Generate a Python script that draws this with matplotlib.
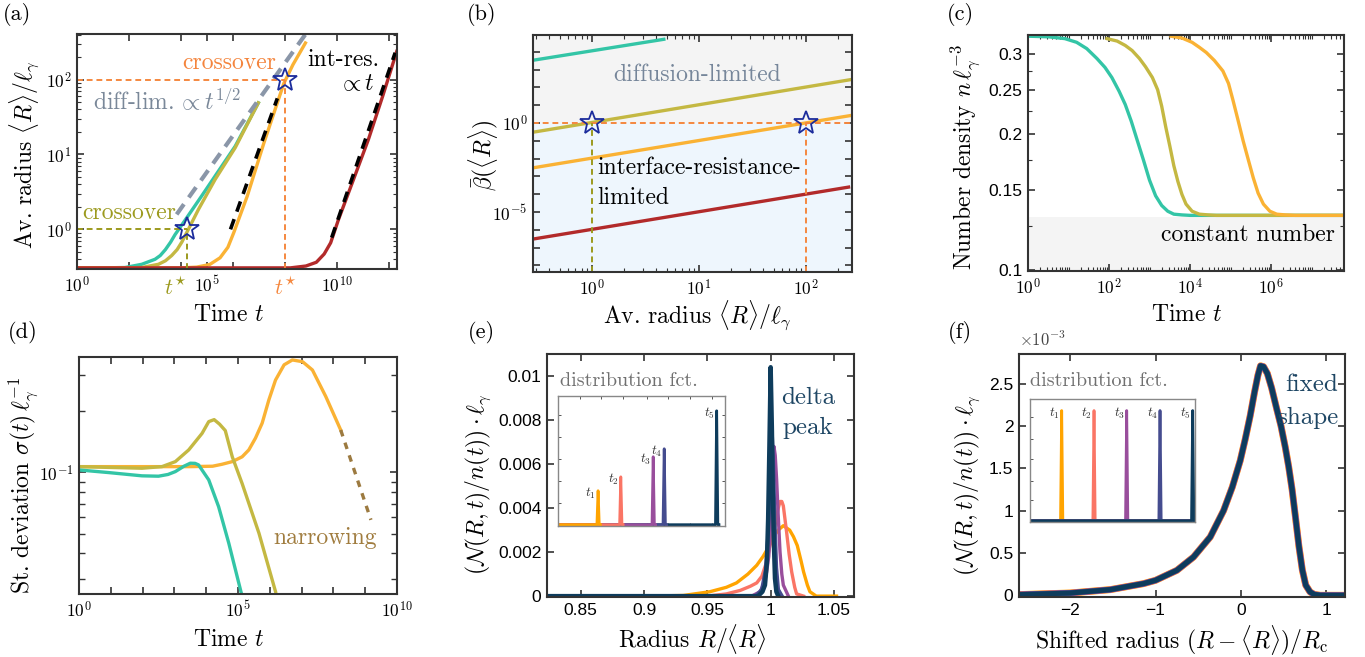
import numpy as np
import matplotlib
matplotlib.use("Agg")
import matplotlib.pyplot as plt
from matplotlib.ticker import FixedLocator, FuncFormatter, NullFormatter, LogLocator

plt.rcParams['font.family'] = ['cmr10', 'DejaVu Serif']
plt.rcParams['mathtext.fontset'] = 'cm'
plt.rcParams['axes.formatter.use_mathtext'] = True
plt.rcParams['axes.unicode_minus'] = True

# ---------------- data ----------------
# (a) average radius vs time, values as log10
a_teal_lt = [0, 1, 1.85, 2.49, 3.0, 3.2, 3.4, 3.6, 3.77, 4.15, 4.8, 5.44, 6.08, 6.97]
a_teal_lr = [-0.515, -0.515, -0.51, -0.467, -0.40, -0.35, -0.27, -0.17, -0.07, 0.12, 0.45, 0.78, 1.11, 1.69]
a_olive_lt = [0, 2.0, 2.49, 3.13, 3.4, 3.64, 3.85, 4.03, 4.28, 4.67, 5.31, 6.08, 6.97]
a_olive_lr = [-0.515, -0.515, -0.51, -0.467, -0.42, -0.35, -0.27, -0.17, 0.0, 0.267, 0.667, 1.09, 1.69]
a_orange_lt = [0, 4.0, 4.6, 5.1, 5.5, 5.8, 6.03, 6.54, 7.18, 7.95, 8.3, 8.78]
a_orange_lr = [-0.515, -0.515, -0.505, -0.47, -0.38, -0.24, -0.04, 0.44, 1.15, 1.95, 2.2, 2.49]
a_red_lt = [0, 8.2, 8.8, 9.2, 9.5, 9.75, 10.05, 10.6, 11.2, 11.75, 12.31]
a_red_lr = [-0.515, -0.515, -0.49, -0.44, -0.33, -0.18, 0.13, 0.64, 1.2, 1.78, 2.4]
a_diff_lt = [3.83, 8.77]
a_diff_lr = [0.2, 2.6]
a_int1_lt = [5.9, 7.7]
a_int1_lr = [0.0, 1.75]
a_int2_lt = [9.79, 12.23]
a_int2_lr = [-0.11, 2.36]
a_star_t = [10**4.22, 10**8.0]
a_star_r = [1, 100]

# (b) beta vs average radius
b_teal_r, b_teal_b = [0.28, 4.7], [3.3e3, 5.0e4]
b_olive_r, b_olive_b = [0.28, 270], [0.3, 280]
b_orange_r, b_orange_b = [0.28, 270], [3e-3, 2.7]
b_red_r, b_red_b = [0.28, 250], [3e-7, 2.5e-4]
b_star_r = [1, 100]
b_star_b = [1, 1]

# (c) number density, time as log10
c_teal_lt = [0, 0.5, 0.91, 1.2, 1.45, 1.7, 1.9, 2.07, 2.25, 2.4, 2.55, 2.7, 2.85, 3.0, 3.15, 3.3, 3.45, 3.6, 3.8, 4.0, 7.76]
c_teal_n = [0.328, 0.327, 0.324, 0.318, 0.308, 0.293, 0.28, 0.266, 0.248, 0.232, 0.213, 0.193, 0.175, 0.158, 0.146, 0.139, 0.135, 0.133, 0.1325, 0.1322, 0.1322]
c_olive_lt = [1.95, 2.2, 2.4, 2.57, 2.75, 2.9, 3.07, 3.2, 3.3, 3.4, 3.5, 3.6, 3.7, 3.8, 3.9, 4.05, 4.23, 4.45, 4.65, 7.76]
c_olive_n = [0.324, 0.32, 0.313, 0.305, 0.293, 0.281, 0.266, 0.25, 0.23, 0.207, 0.188, 0.17, 0.157, 0.147, 0.140, 0.135, 0.133, 0.1325, 0.1322, 0.1322]
c_orange_lt = [3.53, 3.8, 4.05, 4.23, 4.4, 4.6, 4.81, 4.95, 5.06, 5.18, 5.31, 5.44, 5.56, 5.68, 5.81, 5.97, 6.14, 6.35, 6.6, 7.76]
c_orange_n = [0.328, 0.325, 0.318, 0.31, 0.302, 0.29, 0.275, 0.258, 0.237, 0.215, 0.193, 0.175, 0.160, 0.148, 0.140, 0.135, 0.133, 0.1325, 0.1322, 0.1322]

# (d) standard deviation, time as log10
d_orange_lt = [0, 2, 3.5, 4.2, 4.5, 4.82, 5.13, 5.34, 5.55, 5.76, 5.97, 6.18, 6.45, 6.71, 7.03, 7.34, 7.76, 8.23]
d_orange_s = [0.1065, 0.1065, 0.1065, 0.107, 0.1094, 0.1127, 0.119, 0.1286, 0.147, 0.174, 0.226, 0.283, 0.336, 0.355, 0.348, 0.317, 0.235, 0.161]
d_narrow_lt = [8.23, 9.18]
d_narrow_s = [0.161, 0.0584]
d_olive_lt = [0, 1, 1.98, 2.61, 3.03, 3.45, 3.87, 4.08, 4.25, 4.42, 4.6, 4.82, 5.13, 5.66, 6.18]
d_olive_s = [0.1065, 0.1055, 0.1046, 0.1065, 0.1127, 0.1286, 0.155, 0.177, 0.181, 0.172, 0.16, 0.119, 0.088, 0.0502, 0.026]
d_teal_lt = [0, 0.93, 1.98, 2.5, 2.8, 3.03, 3.3, 3.5, 3.65, 3.76, 4.08, 4.39, 4.71, 5.1]
d_teal_s = [0.1026, 0.0996, 0.096, 0.0956, 0.0975, 0.1007, 0.107, 0.1107, 0.1105, 0.1086, 0.0917, 0.0678, 0.0449, 0.0257]

# (e) distributions vs R/<R>
e_x1 = [0.8234, 0.90, 0.931, 0.952, 0.965, 0.973, 0.982, 0.989, 0.994, 0.997, 1.001, 1.006, 1.01, 1.015, 1.018, 1.021, 1.024, 1.026, 1.029, 1.031, 1.036, 1.052]
e_y1 = [0, 0, 0.00003, 0.0002, 0.0004, 0.0006, 0.001, 0.0014, 0.0018, 0.0021, 0.0026, 0.003, 0.0032, 0.003, 0.0027, 0.0023, 0.0016, 0.0011, 0.0005, 0.0002, 0, 0]
e_x2 = [0.8234, 0.95, 0.965, 0.976, 0.984, 0.989, 0.993, 0.9965, 0.9995, 1.0034, 1.006, 1.0074, 1.0088, 1.01, 1.0126, 1.0146, 1.0166, 1.019, 1.0205, 1.026]
e_y2 = [0, 0, 0.0001, 0.00026, 0.00045, 0.0006, 0.0009, 0.0015, 0.0023, 0.0032, 0.004, 0.0043, 0.0043, 0.0041, 0.0029, 0.0019, 0.0011, 0.0004, 0.0001, 0]
e_x3 = [0.8234, 0.985, 0.9916, 0.995, 0.9968, 0.9985, 0.9995, 1.0008, 1.0016, 1.0026, 1.0036, 1.0047, 1.006, 1.0074, 1.0088, 1.01, 1.014]
e_y3 = [0, 0, 0.0002, 0.0006, 0.0011, 0.0018, 0.0027, 0.0043, 0.0058, 0.0068, 0.0064, 0.0053, 0.0036, 0.002, 0.001, 0.0005, 0]
e_x4 = [0.8234, 0.988, 0.993, 0.996, 0.998, 0.9995, 1.0008, 1.002, 1.0032, 1.0045, 1.006, 1.009]
e_y4 = [0, 0, 0.0003, 0.0012, 0.0028, 0.0052, 0.0078, 0.0062, 0.0035, 0.0013, 0.0003, 0]
e_x5 = [0.8234, 0.99, 0.9935, 0.9955, 0.997, 0.998, 0.999, 1.0, 1.001, 1.0016, 1.0025, 1.0034, 1.0045, 1.006]
e_y5 = [0, 0, 0.0002, 0.0005, 0.0015, 0.0035, 0.0068, 0.0104, 0.0075, 0.005, 0.0025, 0.0008, 0.0002, 0]
e_inset_pos = [0.24, 0.376, 0.57, 0.636, 0.95]
e_inset_h = [0.264, 0.372, 0.528, 0.59, 0.885]

# (f) collapsed distribution (units of 1e-3)
f_x = [-2.6, -2.0, -1.53, -1.14, -1.0, -0.75, -0.555, -0.359, -0.203, -0.1, -0.008, 0.05, 0.109, 0.16, 0.2, 0.23,
       0.266, 0.31, 0.36, 0.42, 0.47, 0.52, 0.56, 0.6, 0.64, 0.68, 0.72, 0.76, 0.81, 0.86, 0.93, 1.22]
f_y = [0.008, 0.027, 0.067, 0.138, 0.177, 0.295, 0.452, 0.689, 1.0, 1.28, 1.59, 1.84, 2.12, 2.4, 2.6, 2.71,
       2.70, 2.62, 2.45, 2.2, 2.0, 1.75, 1.52, 1.25, 0.92, 0.58, 0.3, 0.12, 0.04, 0.01, 0.0, 0.0]
f_inset_pos = [0.192, 0.388, 0.586, 0.788, 0.986]
f_inset_h = [0.905, 0.905, 0.905, 0.905, 0.905]
t_labels = [r'$t_1$', r'$t_2$', r'$t_3$', r'$t_4$', r'$t_5$']

# colours
teal = '#33c5a6'
olive = '#c4b842'
orange = '#fab234'
red = '#b22a2a'
dist_cols = ['#ffa400', '#fa7565', '#994e9c', '#454c8f', '#0e3c5c']
orange_dash = '#f5883f'
olive_dash = '#9c9a1e'
star_col = '#1c2c9c'
frame = '#333333'

W, H = 1365, 657
fig = plt.figure(figsize=(13.65, 6.57), dpi=100)


def box(l, t, r, b):
    return fig.add_axes([l / W, 1 - b / H, (r - l) / W, (b - t) / H])


def ftext(x, y, s, **kw):
    return fig.text(x / W, 1 - y / H, s, **kw)


def style(ax):
    for s in ax.spines.values():
        s.set_color(frame)
        s.set_linewidth(1.5)
    ax.tick_params(which='both', direction='in', top=True, right=True, color=frame,
                   labelsize=12.5, labelfontfamily='Liberation Sans', pad=4)
    ax.tick_params(which='major', length=5, width=1.2)
    ax.tick_params(which='minor', length=3, width=0.8)


def pow10(v, pos):
    e = int(round(np.log10(v)))
    return r'$\mathsf{10^{%d}}$' % e


def plain(v, pos):
    s = ('%g' % v)
    return s.replace('-', '\u2212')


def lg(a):
    return 10 ** np.asarray(a)


lw = 2.4
fs_lab = 17
fs_ann = 17

# ---------------- (a) ----------------
axA = box(77, 34, 397, 269)
style(axA)
axA.set_xscale('log')
axA.set_yscale('log')
axA.plot(lg(a_teal_lt), lg(a_teal_lr), color=teal, lw=lw)
axA.plot(lg(a_olive_lt), lg(a_olive_lr), color=olive, lw=lw)
axA.plot(lg(a_orange_lt), lg(a_orange_lr), color=orange, lw=lw)
axA.plot(lg(a_red_lt), lg(a_red_lr), color=red, lw=lw, solid_capstyle='butt')
axA.plot(lg(a_diff_lt), lg(a_diff_lr), color='#8a96a8', lw=3, ls=(0, (3, 2)))
axA.plot(lg(a_int1_lt), lg(a_int1_lr), color='black', lw=2.6, ls=(0, (3, 2.2)))
axA.plot(lg(a_int2_lt), lg(a_int2_lr), color='black', lw=2.6, ls=(0, (3, 2.2)))
ymin_a = 10 ** -0.53
axA.plot([1, a_star_t[0]], [a_star_r[0]] * 2, color=olive_dash, lw=1.4, ls=(0, (3, 2)))
axA.plot([a_star_t[0]] * 2, [ymin_a, a_star_r[0]], color=olive_dash, lw=1.4, ls=(0, (3, 2)))
axA.plot([1, a_star_t[1]], [a_star_r[1]] * 2, color=orange_dash, lw=1.4, ls=(0, (3, 2)))
axA.plot([a_star_t[1]] * 2, [ymin_a, a_star_r[1]], color=orange_dash, lw=1.4, ls=(0, (3, 2)))
axA.plot(a_star_t, a_star_r, ls='none', marker='*', ms=18, mfc='none', mec=star_col, mew=1.3)
axA.set_xlim(1, 10 ** 12.3)
axA.set_ylim(ymin_a, 10 ** 2.61)
axA.xaxis.set_major_locator(FixedLocator([1, 1e5, 1e10]))
axA.xaxis.set_major_formatter(FuncFormatter(pow10))
axA.xaxis.set_minor_locator(FixedLocator([1e2, 1e4, 1e6, 1e8, 1e12]))
axA.xaxis.set_minor_formatter(NullFormatter())
axA.tick_params(axis='x', which='minor', length=5, width=1.2)
axA.yaxis.set_major_locator(FixedLocator([1, 10, 100]))
axA.yaxis.set_major_formatter(FuncFormatter(pow10))
axA.yaxis.set_minor_locator(LogLocator(base=10, subs=np.arange(2, 10), numticks=20))
axA.yaxis.set_minor_formatter(NullFormatter())
ftext(187, 288, r'$t^{\!\star}$', color=olive_dash, fontsize=16, ha='right', va='center')
ftext(286, 288, r'$t^{\!\star}$', color=orange_dash, fontsize=16, ha='center', va='center')
ftext(229, 63, 'crossover', color='#f4843c', fontsize=fs_ann, ha='center', va='center')
ftext(343, 60, 'int-res.', color='black', fontsize=fs_ann, ha='center', va='center')
ftext(375, 84, r'$\propto t$', color='black', fontsize=fs_ann, ha='right', va='center')
ftext(93, 101, 'diff-lim.' + r'$\,\propto t^{1/2}$', color='#7a8899', fontsize=fs_ann, ha='left', va='center')
ftext(82, 213, 'crossover', color='#9c9a1e', fontsize=fs_ann, ha='left', va='center')
ftext(229, 315, r'Time $t$', fontsize=fs_lab, ha='center', va='center')
ftext(25, 155, r'Av. radius $\langle R\rangle/\ell_\gamma$', fontsize=fs_lab, ha='center', va='center', rotation=90)

# ---------------- (b) ----------------
axB = box(533, 35, 852, 272)
style(axB)
axB.set_xscale('log')
axB.set_yscale('log')
xlim_b = (10 ** -0.55, 10 ** 2.43)
ylim_b = (10 ** -8.37, 10 ** 4.94)
axB.axhspan(1, ylim_b[1], color='#f4f4f4', zorder=0, lw=0)
axB.axhspan(ylim_b[0], 1, color='#eef6fd', zorder=0, lw=0)
axB.plot(b_teal_r, b_teal_b, color=teal, lw=lw)
axB.plot(b_olive_r, b_olive_b, color=olive, lw=lw)
axB.plot(b_orange_r, b_orange_b, color=orange, lw=lw)
axB.plot(b_red_r, b_red_b, color=red, lw=lw)
axB.plot(xlim_b, [1, 1], color=orange_dash, lw=1.4, ls=(0, (3, 2)))
axB.plot([b_star_r[0]] * 2, [ylim_b[0], b_star_b[0]], color=olive_dash, lw=1.4, ls=(0, (3, 2)))
axB.plot([b_star_r[1]] * 2, [ylim_b[0], b_star_b[1]], color=orange_dash, lw=1.4, ls=(0, (3, 2)))
axB.plot(b_star_r, b_star_b, ls='none', marker='*', ms=18, mfc='none', mec=star_col, mew=1.3)
axB.set_xlim(*xlim_b)
axB.set_ylim(*ylim_b)
axB.xaxis.set_major_locator(FixedLocator([1, 10, 100]))
axB.xaxis.set_major_formatter(FuncFormatter(pow10))
axB.xaxis.set_minor_locator(LogLocator(base=10, subs=np.arange(2, 10), numticks=20))
axB.xaxis.set_minor_formatter(NullFormatter())
axB.yaxis.set_major_locator(FixedLocator([10.0 ** k for k in range(-8, 5)]))
axB.yaxis.set_major_formatter(FuncFormatter(lambda v, p: pow10(v, p) if int(round(np.log10(v))) in (0, -5) else ''))
axB.yaxis.set_minor_locator(FixedLocator([]))
ftext(697, 75, 'diffusion-limited', color='#76869a', fontsize=fs_ann, ha='center', va='center')
ftext(597, 168, 'interface-resistance-', color='black', fontsize=fs_ann, ha='left', va='center')
ftext(597, 198, 'limited', color='black', fontsize=fs_ann, ha='left', va='center')
ftext(697, 316, r'Av. radius $\langle R\rangle/\ell_\gamma$', fontsize=fs_lab, ha='center', va='center')
ftext(483, 155, r'$\bar{\beta}(\langle R\rangle)$', fontsize=fs_lab, ha='center', va='center', rotation=90)

# ---------------- (c) ----------------
axC = box(1028, 35, 1344, 271)
style(axC)
axC.set_xscale('log')
axC.set_yscale('log')
ylim_c = (0.0997, 0.33)
axC.axhspan(ylim_c[0], 0.131, color='#f4f4f4', zorder=0, lw=0)
axC.plot(lg(c_teal_lt), c_teal_n, color=teal, lw=lw)
axC.plot(lg(c_olive_lt), c_olive_n, color=olive, lw=lw)
axC.plot(lg(c_orange_lt), c_orange_n, color=orange, lw=lw)
axC.set_xlim(1, 10 ** 7.8)
axC.set_ylim(*ylim_c)
axC.xaxis.set_major_locator(FixedLocator([1, 1e2, 1e4, 1e6]))
axC.xaxis.set_major_formatter(FuncFormatter(pow10))
axC.xaxis.set_minor_locator(LogLocator(base=10, subs=np.arange(1, 10), numticks=40))
axC.xaxis.set_minor_formatter(NullFormatter())
axC.yaxis.set_major_locator(FixedLocator([0.1, 0.15, 0.2, 0.25, 0.3]))
axC.yaxis.set_major_formatter(FuncFormatter(plain))
axC.yaxis.set_minor_locator(FixedLocator([0.125, 0.175, 0.225, 0.275]))
axC.yaxis.set_minor_formatter(NullFormatter())
ftext(1335, 235, 'constant number', color='black', fontsize=fs_ann, ha='right', va='center')
ftext(1187, 315, r'Time $t$', fontsize=fs_lab, ha='center', va='center')
ftext(965, 157, r'Number density $n\,\ell_\gamma^{-3}$', fontsize=fs_lab, ha='center', va='center', rotation=90)

# ---------------- (d) ----------------
axD = box(79, 357, 397, 594)
style(axD)
axD.set_xscale('log')
axD.set_yscale('log')
axD.plot(lg(d_orange_lt), d_orange_s, color=orange, lw=lw)
axD.plot(lg(d_narrow_lt), d_narrow_s, color='#9c7a40', lw=2.4, ls=(0, (2, 2)))
axD.plot(lg(d_olive_lt), d_olive_s, color=olive, lw=lw)
axD.plot(lg(d_teal_lt), d_teal_s, color=teal, lw=lw)
axD.set_xlim(1, 1e10)
axD.set_ylim(0.0253, 0.367)
axD.xaxis.set_major_locator(FixedLocator([1, 1e5, 1e10]))
axD.xaxis.set_major_formatter(FuncFormatter(pow10))
axD.xaxis.set_minor_locator(FixedLocator([10.0 ** k for k in (1, 2, 3, 4, 6, 7, 8, 9)]))
axD.xaxis.set_minor_formatter(NullFormatter())
axD.tick_params(axis='x', which='minor', length=5, width=1.2)
axD.yaxis.set_major_locator(FixedLocator([0.1]))
axD.yaxis.set_major_formatter(FuncFormatter(pow10))
axD.yaxis.set_minor_locator(FixedLocator([0.03, 0.04, 0.05, 0.06, 0.07, 0.08, 0.09, 0.2, 0.3]))
axD.yaxis.set_minor_formatter(NullFormatter())
axD.tick_params(axis='y', which='minor', length=4, width=1.0)
ftext(325, 538, 'narrowing', color='#a07c3e', fontsize=fs_ann, ha='center', va='center')
ftext(229, 640, r'Time $t$', fontsize=fs_lab, ha='center', va='center')
ftext(23, 485, r'St. deviation $\sigma(t)\,\ell_\gamma^{-1}$', fontsize=fs_lab, ha='center', va='center', rotation=90)

# ---------------- (e) ----------------
axE = box(547, 354, 854, 597)
style(axE)
for (xx, yy), c, w in zip([(e_x1, e_y1), (e_x2, e_y2), (e_x3, e_y3), (e_x4, e_y4), (e_x5, e_y5)],
                          dist_cols, [2.4, 2.4, 2.4, 2.6, 3.2]):
    axE.plot(xx, yy, color=c, lw=w)
axE.set_xlim(0.8234, 1.0658)
axE.set_ylim(-0.00004, 0.0110)
axE.xaxis.set_major_locator(FixedLocator([0.85, 0.9, 0.95, 1.0, 1.05]))
axE.xaxis.set_major_formatter(FuncFormatter(plain))
axE.yaxis.set_major_locator(FixedLocator([0, 0.002, 0.004, 0.006, 0.008, 0.01]))
axE.yaxis.set_major_formatter(FuncFormatter(plain))
ftext(808, 398, 'delta', color='#1e4664', fontsize=fs_ann + 1, ha='center', va='center')
ftext(808, 428, 'peak', color='#1e4664', fontsize=fs_ann + 1, ha='center', va='center')
ftext(560, 381, 'distribution fct.', color='#707070', fontsize=14.5, ha='left', va='center')
ftext(692, 639, r'Radius $R/\langle R\rangle$', fontsize=fs_lab, ha='center', va='center')
ftext(478, 484, r'$(\mathcal{N}(R,t)/n(t))\cdot\ell_\gamma$', fontsize=fs_lab, ha='center', va='center', rotation=90)


def inset(l, t, r, b, pos, hts, order, xt, yt, sides):
    ax = box(l, t, r, b)
    for s in ax.spines.values():
        s.set_color('#888888')
        s.set_linewidth(1.0)
    hw = 0.007
    for i in order:
        p, h = pos[i], hts[i]
        end = p + 2 * hw if sides == 'e' else 1.0
        ax.plot([0, p - hw, p, p + hw, end], [0, 0, h, 0, 0], color=dist_cols[i], lw=2.0)
        ax.text(p - 0.012, h - 0.02, t_labels[i], fontsize=9.5, ha='right', va='center', color='#333333')
    ax.set_xlim(0, 1)
    ax.set_ylim(-0.01, 1)
    ax.xaxis.set_major_locator(FixedLocator(xt))
    ax.yaxis.set_major_locator(FixedLocator(yt))
    ax.tick_params(which='both', direction='in', length=2.5, width=0.7, color='#555555',
                   labelbottom=False, labelleft=False,
                   top=(sides == 'e'), right=(sides == 'e'))
    return ax


inset(558, 396, 725, 526, e_inset_pos, e_inset_h, [4, 3, 2, 1, 0],
      [0.13, 0.26, 0.39, 0.53, 0.66, 0.79, 0.92], [0.17, 0.34, 0.51, 0.68, 0.85], 'e')

# ---------------- (f) ----------------
axF = box(1019, 354, 1345, 597)
style(axF)
for c, w in zip(dist_cols, [5.0, 4.6, 4.3, 4.0, 3.6]):
    axF.plot(f_x, f_y, color=c, lw=w)
axF.set_xlim(-2.6, 1.22)
axF.set_ylim(-0.02, 2.85)
axF.xaxis.set_major_locator(FixedLocator([-2, -1, 0, 1]))
axF.xaxis.set_major_formatter(FuncFormatter(plain))
axF.yaxis.set_major_locator(FixedLocator([0, 0.5, 1, 1.5, 2, 2.5]))
axF.yaxis.set_major_formatter(FuncFormatter(plain))
ftext(1019, 349, r'$\mathsf{\times 10^{-3}}$', color='#444444', fontsize=12, ha='left', va='bottom')
ftext(1338, 385, 'fixed', color='#1e4664', fontsize=fs_ann + 1, ha='right', va='center')
ftext(1338, 418, 'shape', color='#1e4664', fontsize=fs_ann + 1, ha='right', va='center')
ftext(1030, 381, 'distribution fct.', color='#707070', fontsize=14.5, ha='left', va='center')
ftext(1182, 640, r'Shifted radius $(R-\langle R\rangle)/R_\mathrm{c}$', fontsize=fs_lab, ha='center', va='center')
ftext(967, 485, r'$(\mathcal{N}(R,t)/n(t))\cdot\ell_\gamma$', fontsize=fs_lab, ha='center', va='center', rotation=90)

inset(1030, 399, 1195, 522, f_inset_pos, f_inset_h, [0, 1, 2, 3, 4],
      [0.33, 0.66], [0.17, 0.33, 0.51, 0.67, 0.85], 'f')

# panel letters
for s, x, y in [('(a)', 3, 15), ('(b)', 467, 15), ('(c)', 947, 15),
                ('(d)', 8, 332), ('(e)', 468, 332), ('(f)', 948, 332)]:
    ftext(x, y, s, fontsize=16, ha='left', va='center')

fig.savefig('out.png', dpi=100)
